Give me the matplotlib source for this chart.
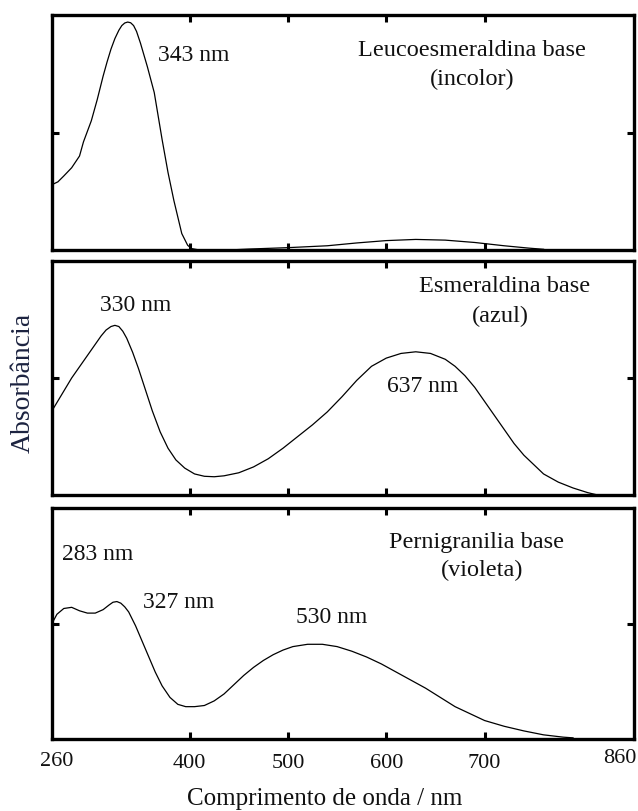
import matplotlib
matplotlib.use("Agg")
import matplotlib.pyplot as plt

# ---------------- data (wavelength nm, relative absorbance 0-1) ----------------
leuco_nm = [260, 266, 272, 280, 288, 292, 300, 306, 312, 316, 320, 324, 328, 331, 334, 337,
            340, 343, 346, 350, 357, 364, 372, 378, 384, 392, 398, 402, 410, 440, 460, 500,
            540, 570, 600, 630, 660, 690, 720, 745, 760]
leuco_abs = [0.278, 0.29, 0.315, 0.35, 0.40, 0.46, 0.55, 0.64, 0.74, 0.80, 0.855, 0.90, 0.935,
             0.955, 0.966, 0.97, 0.967, 0.955, 0.93, 0.88, 0.78, 0.67, 0.47, 0.33, 0.21, 0.07,
             0.02, 0.006, 0.0, 0.0, 0.004, 0.01, 0.018, 0.03, 0.04, 0.045, 0.042, 0.032, 0.018,
             0.008, 0.003]

emer_nm = [260, 270, 280, 290, 300, 310, 315, 320, 324, 328, 332, 336, 342, 348, 355, 362,
           370, 378, 386, 395, 405, 415, 425, 435, 450, 465, 480, 495, 510, 525, 540, 555,
           570, 585, 600, 615, 630, 645, 660, 670, 680, 690, 700, 710, 720, 730, 740, 750,
           760, 775, 790, 805, 815]
emer_abs = [0.36, 0.43, 0.50, 0.56, 0.62, 0.68, 0.705, 0.72, 0.725, 0.72, 0.70, 0.67, 0.61,
            0.54, 0.45, 0.36, 0.27, 0.20, 0.15, 0.115, 0.09, 0.08, 0.078, 0.082, 0.095, 0.12,
            0.155, 0.20, 0.25, 0.30, 0.355, 0.42, 0.49, 0.55, 0.585, 0.605, 0.612, 0.605, 0.58,
            0.55, 0.51, 0.46, 0.40, 0.34, 0.28, 0.22, 0.17, 0.13, 0.09, 0.055, 0.03, 0.01, 0.0]

perni_nm = [260, 265, 272, 280, 288, 296, 304, 312, 318, 322, 326, 330, 334, 338, 345, 352,
            358, 365, 372, 380, 388, 396, 405, 415, 425, 435, 445, 455, 465, 475, 485, 495,
            505, 520, 535, 550, 565, 580, 595, 610, 625, 640, 655, 670, 685, 700, 720, 740,
            760, 780, 790]
perni_abs = [0.50, 0.54, 0.565, 0.57, 0.555, 0.545, 0.545, 0.56, 0.58, 0.592, 0.595, 0.588,
             0.572, 0.55, 0.49, 0.42, 0.36, 0.29, 0.23, 0.18, 0.15, 0.14, 0.14, 0.145, 0.165,
             0.195, 0.235, 0.275, 0.31, 0.34, 0.365, 0.385, 0.40, 0.41, 0.41, 0.40, 0.38, 0.355,
             0.325, 0.29, 0.255, 0.22, 0.18, 0.14, 0.11, 0.08, 0.055, 0.035, 0.018, 0.008, 0.005]

tick_values = [400, 500, 600, 700]
tick_labels = ["400", "500", "600", "700"]
end_labels = ["260", "860"]
x_range = (260, 852)

panel_titles = [("Leucoesmeraldina base", "(incolor)"),
                ("Esmeraldina base", "(azul)"),
                ("Pernigranilia base", "(violeta)")]
peak_labels = [
    [("343 nm", 0.182, 0.834, "left")],
    [("330 nm", 0.144, 0.816, "center"), ("637 nm", 0.637, 0.466, "center")],
    [("283 nm", 0.079, 0.805, "center"), ("327 nm", 0.218, 0.597, "center"),
     ("530 nm", 0.481, 0.532, "center")],
]
title_pos = [((0.722, 0.855), (0.722, 0.732)),
             ((0.777, 0.897), (0.770, 0.769)),
             ((0.729, 0.857), (0.739, 0.736))]

xlabel = "Comprimento de onda / nm"
ylabel = "Absorbância"

# ---------------- figure ----------------
plt.rcParams['font.family'] = ['Liberation Serif', 'DejaVu Serif']
W, H = 638, 812
fig = plt.figure(figsize=(W / 100, H / 100), dpi=100)

# axes boxes in pixels: (left, top, right, bottom)
boxes = [(52, 16, 634, 251), (52, 262, 634, 496), (52, 509, 634, 740)]
series = [(leuco_nm, leuco_abs), (emer_nm, emer_abs), (perni_nm, perni_abs)]

txt_col = "#111111"
axes = []
for i, ((l, t, r, b), (xs, ys)) in enumerate(zip(boxes, series)):
    ax = fig.add_axes([l / W, 1 - b / H, (r - l) / W, (b - t) / H])
    ax.plot(xs, ys, color="black", lw=0.9)
    ax.set_xlim(*x_range)
    ax.set_ylim(0, 1)
    ax.set_xticks(tick_values)
    ax.set_yticks([0.5])
    ax.tick_params(direction="in", length=5, width=2.2, top=True, right=True,
                   labelleft=False, labelbottom=(i == 2), labelsize=16, pad=10,
                   colors="black", labelcolor=txt_col)
    if i == 2:
        ax.set_xticklabels(tick_labels)
    for s in ax.spines.values():
        s.set_linewidth(2.4)
    (t1x, t1y), (t2x, t2y) = title_pos[i]
    ax.text(t1x, t1y, panel_titles[i][0], transform=ax.transAxes, ha="center",
            va="center", fontsize=17.5, color=txt_col)
    ax.text(t2x, t2y, panel_titles[i][1], transform=ax.transAxes, ha="center",
            va="center", fontsize=17.5, color=txt_col)
    for lab, fx, fy, ha in peak_labels[i]:
        ax.text(fx, fy, lab, transform=ax.transAxes, ha=ha, va="center",
                fontsize=17, color=txt_col)
    axes.append(ax)

# end labels at the axis corners
axb = axes[2]
axb.text(0.008, -0.095, end_labels[0], transform=axb.transAxes, ha="center", va="center",
         fontsize=16, color=txt_col)
axb.text(1.005, -0.08, end_labels[1], transform=axb.transAxes, ha="right", va="center",
         fontsize=16, color=txt_col)

fig.text(325 / W, 1 - 799 / H, xlabel, ha="center", va="center", fontsize=18, color=txt_col)
fig.text(23 / W, 1 - 383 / H, ylabel, ha="center", va="center", rotation=90,
         fontsize=20, color="#1c2340")

fig.savefig("out.png", dpi=100)
